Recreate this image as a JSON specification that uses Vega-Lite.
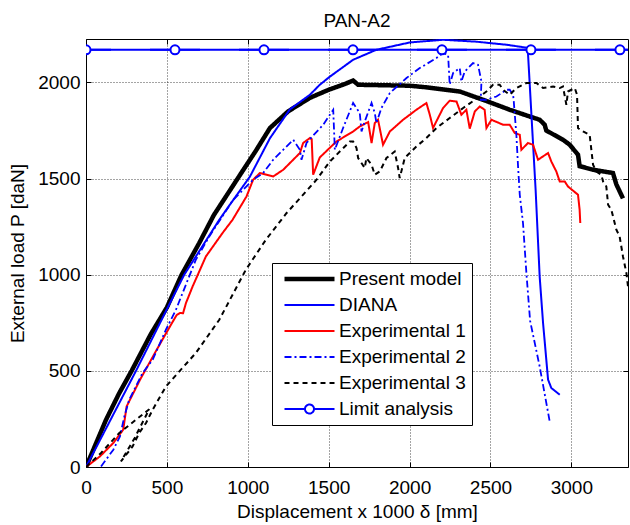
{
"$schema": "https://vega.github.io/schema/vega-lite/v6.json",
"width": 542, "height": 428,
"autosize": {"type": "none"},
"padding": {"left": 86, "top": 39, "right": 2, "bottom": 58},
"background": "white",
"title": {"text": "PAN-A2", "frame": "group", "anchor": "middle", "offset": -7, "baseline": "alphabetic", "fontSize": 19, "fontWeight": "normal", "font": "Liberation Sans", "color": "black"},
"config": {
  "view": {"stroke": "black", "strokeWidth": 1},
  "axis": {"domain": false, "tickColor": "black", "tickSize": -5, "tickWidth": 1, "labelFont": "Liberation Sans", "labelFontSize": 19, "labelColor": "black", "titleFont": "Liberation Sans", "titleFontSize": 19, "titleFontWeight": "normal", "titleColor": "black", "gridColor": "black", "gridDash": [1, 2], "gridOpacity": 0.9, "gridWidth": 0.8, "labelFlush": false, "labelOverlap": false, "labelBound": false, "format": "d"},
  "legend": {"fillColor": "white", "strokeColor": "black", "padding": 6, "symbolType": "stroke", "symbolSize": 2500, "clipHeight": 20, "labelFont": "Liberation Sans", "labelFontSize": 19, "labelColor": "black", "labelOffset": 2, "rowPadding": 6, "symbolOffset": 4, "labelLimit": 300}
},
"data": {"values": [
{"s":"Present model","i":1,"x":0,"y":0},{"s":"Present model","i":2,"x":124,"y":246},{"s":"Present model","i":3,"x":206,"y":385},{"s":"Present model","i":4,"x":282,"y":500},{"s":"Present model","i":5,"x":400,"y":690},{"s":"Present model","i":6,"x":500,"y":830},{"s":"Present model","i":7,"x":591,"y":1000},{"s":"Present model","i":8,"x":700,"y":1165},{"s":"Present model","i":9,"x":790,"y":1310},{"s":"Present model","i":10,"x":941,"y":1505},{"s":"Present model","i":11,"x":1050,"y":1645},{"s":"Present model","i":12,"x":1137,"y":1763},{"s":"Present model","i":13,"x":1250,"y":1850},{"s":"Present model","i":14,"x":1384,"y":1920},{"s":"Present model","i":15,"x":1500,"y":1962},{"s":"Present model","i":16,"x":1600,"y":1992},{"s":"Present model","i":17,"x":1651,"y":2010},{"s":"Present model","i":18,"x":1682,"y":1988},{"s":"Present model","i":19,"x":2001,"y":1983},{"s":"Present model","i":20,"x":2100,"y":1975},{"s":"Present model","i":21,"x":2310,"y":1953},{"s":"Present model","i":22,"x":2454,"y":1910},{"s":"Present model","i":23,"x":2619,"y":1858},{"s":"Present model","i":24,"x":2742,"y":1823},{"s":"Present model","i":25,"x":2804,"y":1806},{"s":"Present model","i":26,"x":2835,"y":1780},{"s":"Present model","i":27,"x":2845,"y":1750},{"s":"Present model","i":28,"x":2948,"y":1702},{"s":"Present model","i":29,"x":2990,"y":1676},{"s":"Present model","i":30,"x":3041,"y":1624},{"s":"Present model","i":31,"x":3051,"y":1565},{"s":"Present model","i":32,"x":3134,"y":1546},{"s":"Present model","i":33,"x":3257,"y":1529},{"s":"Present model","i":34,"x":3278,"y":1470},{"s":"Present model","i":35,"x":3319,"y":1397},
{"s":"DIANA","i":1,"x":0,"y":0},{"s":"DIANA","i":2,"x":309,"y":500},{"s":"DIANA","i":3,"x":607,"y":1000},{"s":"DIANA","i":4,"x":824,"y":1286},{"s":"DIANA","i":5,"x":889,"y":1364},{"s":"DIANA","i":6,"x":1013,"y":1510},{"s":"DIANA","i":7,"x":1137,"y":1710},{"s":"DIANA","i":8,"x":1260,"y":1860},{"s":"DIANA","i":9,"x":1384,"y":1936},{"s":"DIANA","i":10,"x":1445,"y":1988},{"s":"DIANA","i":11,"x":1507,"y":2030},{"s":"DIANA","i":12,"x":1651,"y":2118},{"s":"DIANA","i":13,"x":1795,"y":2170},{"s":"DIANA","i":14,"x":2001,"y":2208},{"s":"DIANA","i":15,"x":2207,"y":2222},{"s":"DIANA","i":16,"x":2413,"y":2212},{"s":"DIANA","i":17,"x":2600,"y":2196},{"s":"DIANA","i":18,"x":2730,"y":2180},{"s":"DIANA","i":19,"x":2779,"y":1442},{"s":"DIANA","i":20,"x":2804,"y":991},{"s":"DIANA","i":21,"x":2825,"y":749},{"s":"DIANA","i":22,"x":2856,"y":454},{"s":"DIANA","i":23,"x":2876,"y":411},{"s":"DIANA","i":24,"x":2928,"y":376},
{"s":"Experimental 1","i":1,"x":0,"y":0},{"s":"Experimental 1","i":2,"x":86,"y":55},{"s":"Experimental 1","i":3,"x":169,"y":125},{"s":"Experimental 1","i":4,"x":230,"y":194},{"s":"Experimental 1","i":5,"x":251,"y":315},{"s":"Experimental 1","i":6,"x":334,"y":454},{"s":"Experimental 1","i":7,"x":437,"y":610},{"s":"Experimental 1","i":8,"x":519,"y":731},{"s":"Experimental 1","i":9,"x":560,"y":790},{"s":"Experimental 1","i":10,"x":581,"y":801},{"s":"Experimental 1","i":11,"x":600,"y":800},{"s":"Experimental 1","i":12,"x":618,"y":853},{"s":"Experimental 1","i":13,"x":659,"y":939},{"s":"Experimental 1","i":14,"x":741,"y":1095},{"s":"Experimental 1","i":15,"x":844,"y":1217},{"s":"Experimental 1","i":16,"x":906,"y":1286},{"s":"Experimental 1","i":17,"x":992,"y":1407},{"s":"Experimental 1","i":18,"x":1033,"y":1494},{"s":"Experimental 1","i":19,"x":1075,"y":1529},{"s":"Experimental 1","i":20,"x":1157,"y":1511},{"s":"Experimental 1","i":21,"x":1219,"y":1546},{"s":"Experimental 1","i":22,"x":1322,"y":1633},{"s":"Experimental 1","i":23,"x":1342,"y":1685},{"s":"Experimental 1","i":24,"x":1384,"y":1711},{"s":"Experimental 1","i":25,"x":1395,"y":1705},{"s":"Experimental 1","i":26,"x":1404,"y":1520},{"s":"Experimental 1","i":27,"x":1445,"y":1610},{"s":"Experimental 1","i":28,"x":1548,"y":1693},{"s":"Experimental 1","i":29,"x":1651,"y":1745},{"s":"Experimental 1","i":30,"x":1692,"y":1771},{"s":"Experimental 1","i":31,"x":1744,"y":1794},{"s":"Experimental 1","i":32,"x":1765,"y":1685},{"s":"Experimental 1","i":33,"x":1785,"y":1789},{"s":"Experimental 1","i":34,"x":1805,"y":1806},{"s":"Experimental 1","i":35,"x":1836,"y":1676},{"s":"Experimental 1","i":36,"x":1878,"y":1745},{"s":"Experimental 1","i":37,"x":1960,"y":1806},{"s":"Experimental 1","i":38,"x":2042,"y":1858},{"s":"Experimental 1","i":39,"x":2104,"y":1893},{"s":"Experimental 1","i":40,"x":2125,"y":1832},{"s":"Experimental 1","i":41,"x":2145,"y":1763},{"s":"Experimental 1","i":42,"x":2207,"y":1867},{"s":"Experimental 1","i":43,"x":2248,"y":1905},{"s":"Experimental 1","i":44,"x":2290,"y":1901},{"s":"Experimental 1","i":45,"x":2320,"y":1832},{"s":"Experimental 1","i":46,"x":2351,"y":1858},{"s":"Experimental 1","i":47,"x":2372,"y":1760},{"s":"Experimental 1","i":48,"x":2403,"y":1849},{"s":"Experimental 1","i":49,"x":2434,"y":1875},{"s":"Experimental 1","i":50,"x":2464,"y":1858},{"s":"Experimental 1","i":51,"x":2475,"y":1763},{"s":"Experimental 1","i":52,"x":2506,"y":1806},{"s":"Experimental 1","i":53,"x":2578,"y":1780},{"s":"Experimental 1","i":54,"x":2619,"y":1780},{"s":"Experimental 1","i":55,"x":2650,"y":1737},{"s":"Experimental 1","i":56,"x":2681,"y":1728},{"s":"Experimental 1","i":57,"x":2691,"y":1650},{"s":"Experimental 1","i":58,"x":2732,"y":1685},{"s":"Experimental 1","i":59,"x":2763,"y":1676},{"s":"Experimental 1","i":60,"x":2794,"y":1598},{"s":"Experimental 1","i":61,"x":2856,"y":1633},{"s":"Experimental 1","i":62,"x":2876,"y":1589},{"s":"Experimental 1","i":63,"x":2907,"y":1537},{"s":"Experimental 1","i":64,"x":2928,"y":1485},{"s":"Experimental 1","i":65,"x":2959,"y":1485},{"s":"Experimental 1","i":66,"x":2979,"y":1459},{"s":"Experimental 1","i":67,"x":3041,"y":1416},{"s":"Experimental 1","i":68,"x":3051,"y":1338},{"s":"Experimental 1","i":69,"x":3055,"y":1269},
{"s":"Experimental 2","i":1,"x":93,"y":3},{"s":"Experimental 2","i":2,"x":169,"y":90},{"s":"Experimental 2","i":3,"x":210,"y":159},{"s":"Experimental 2","i":4,"x":237,"y":263},{"s":"Experimental 2","i":5,"x":267,"y":350},{"s":"Experimental 2","i":6,"x":350,"y":489},{"s":"Experimental 2","i":7,"x":412,"y":558},{"s":"Experimental 2","i":8,"x":494,"y":714},{"s":"Experimental 2","i":9,"x":556,"y":818},{"s":"Experimental 2","i":10,"x":597,"y":905},{"s":"Experimental 2","i":11,"x":679,"y":1078},{"s":"Experimental 2","i":12,"x":762,"y":1199},{"s":"Experimental 2","i":13,"x":910,"y":1390},{"s":"Experimental 2","i":14,"x":1033,"y":1494},{"s":"Experimental 2","i":15,"x":1095,"y":1529},{"s":"Experimental 2","i":16,"x":1157,"y":1598},{"s":"Experimental 2","i":17,"x":1281,"y":1702},{"s":"Experimental 2","i":18,"x":1322,"y":1650},{"s":"Experimental 2","i":19,"x":1332,"y":1598},{"s":"Experimental 2","i":20,"x":1363,"y":1685},{"s":"Experimental 2","i":21,"x":1400,"y":1720},{"s":"Experimental 2","i":22,"x":1466,"y":1780},{"s":"Experimental 2","i":23,"x":1528,"y":1858},{"s":"Experimental 2","i":24,"x":1538,"y":1650},{"s":"Experimental 2","i":25,"x":1589,"y":1763},{"s":"Experimental 2","i":26,"x":1651,"y":1893},{"s":"Experimental 2","i":27,"x":1692,"y":1841},{"s":"Experimental 2","i":28,"x":1703,"y":1745},{"s":"Experimental 2","i":29,"x":1723,"y":1797},{"s":"Experimental 2","i":30,"x":1765,"y":1893},{"s":"Experimental 2","i":31,"x":1785,"y":1841},{"s":"Experimental 2","i":32,"x":1795,"y":1789},{"s":"Experimental 2","i":33,"x":1826,"y":1867},{"s":"Experimental 2","i":34,"x":1878,"y":1945},{"s":"Experimental 2","i":35,"x":1981,"y":2023},{"s":"Experimental 2","i":36,"x":2063,"y":2075},{"s":"Experimental 2","i":37,"x":2166,"y":2127},{"s":"Experimental 2","i":38,"x":2207,"y":2153},{"s":"Experimental 2","i":39,"x":2238,"y":2144},{"s":"Experimental 2","i":40,"x":2248,"y":1988},{"s":"Experimental 2","i":41,"x":2269,"y":2049},{"s":"Experimental 2","i":42,"x":2310,"y":2075},{"s":"Experimental 2","i":43,"x":2320,"y":2005},{"s":"Experimental 2","i":44,"x":2341,"y":2057},{"s":"Experimental 2","i":45,"x":2392,"y":2101},{"s":"Experimental 2","i":46,"x":2423,"y":2092},{"s":"Experimental 2","i":47,"x":2444,"y":2005},{"s":"Experimental 2","i":48,"x":2440,"y":1910},{"s":"Experimental 2","i":49,"x":2475,"y":1910},{"s":"Experimental 2","i":50,"x":2537,"y":1927},{"s":"Experimental 2","i":51,"x":2599,"y":1962},{"s":"Experimental 2","i":52,"x":2619,"y":1962},{"s":"Experimental 2","i":53,"x":2640,"y":1935},{"s":"Experimental 2","i":54,"x":2644,"y":1901},{"s":"Experimental 2","i":55,"x":2660,"y":1728},{"s":"Experimental 2","i":56,"x":2671,"y":1555},{"s":"Experimental 2","i":57,"x":2681,"y":1416},{"s":"Experimental 2","i":58,"x":2701,"y":1269},{"s":"Experimental 2","i":59,"x":2722,"y":1009},{"s":"Experimental 2","i":60,"x":2745,"y":760},{"s":"Experimental 2","i":61,"x":2804,"y":523},{"s":"Experimental 2","i":62,"x":2866,"y":237},
{"s":"Experimental 3","i":1,"x":0,"y":0},{"s":"Experimental 3","i":2,"x":93,"y":73},{"s":"Experimental 3","i":3,"x":206,"y":177},{"s":"Experimental 3","i":4,"x":309,"y":246},{"s":"Experimental 3","i":5,"x":391,"y":300},{"s":"Experimental 3","i":6,"x":300,"y":150},{"s":"Experimental 3","i":7,"x":216,"y":29},{"s":"Experimental 3","i":8,"x":288,"y":107},{"s":"Experimental 3","i":9,"x":329,"y":177},{"s":"Experimental 3","i":10,"x":371,"y":229},{"s":"Experimental 3","i":11,"x":412,"y":298},{"s":"Experimental 3","i":12,"x":494,"y":419},{"s":"Experimental 3","i":13,"x":679,"y":593},{"s":"Experimental 3","i":14,"x":824,"y":766},{"s":"Experimental 3","i":15,"x":988,"y":1026},{"s":"Experimental 3","i":16,"x":1112,"y":1182},{"s":"Experimental 3","i":17,"x":1240,"y":1321},{"s":"Experimental 3","i":18,"x":1425,"y":1494},{"s":"Experimental 3","i":19,"x":1507,"y":1589},{"s":"Experimental 3","i":20,"x":1631,"y":1693},{"s":"Experimental 3","i":21,"x":1651,"y":1693},{"s":"Experimental 3","i":22,"x":1672,"y":1659},{"s":"Experimental 3","i":23,"x":1682,"y":1607},{"s":"Experimental 3","i":24,"x":1723,"y":1555},{"s":"Experimental 3","i":25,"x":1733,"y":1607},{"s":"Experimental 3","i":26,"x":1765,"y":1572},{"s":"Experimental 3","i":27,"x":1785,"y":1520},{"s":"Experimental 3","i":28,"x":1816,"y":1537},{"s":"Experimental 3","i":29,"x":1857,"y":1607},{"s":"Experimental 3","i":30,"x":1908,"y":1641},{"s":"Experimental 3","i":31,"x":1929,"y":1555},{"s":"Experimental 3","i":32,"x":1939,"y":1503},{"s":"Experimental 3","i":33,"x":1970,"y":1607},{"s":"Experimental 3","i":34,"x":2042,"y":1667},{"s":"Experimental 3","i":35,"x":2104,"y":1711},{"s":"Experimental 3","i":36,"x":2166,"y":1763},{"s":"Experimental 3","i":37,"x":2248,"y":1815},{"s":"Experimental 3","i":38,"x":2331,"y":1867},{"s":"Experimental 3","i":39,"x":2413,"y":1915},{"s":"Experimental 3","i":40,"x":2475,"y":1953},{"s":"Experimental 3","i":41,"x":2516,"y":1988},{"s":"Experimental 3","i":42,"x":2557,"y":1988},{"s":"Experimental 3","i":43,"x":2578,"y":1962},{"s":"Experimental 3","i":44,"x":2619,"y":1936},{"s":"Experimental 3","i":45,"x":2660,"y":1971},{"s":"Experimental 3","i":46,"x":2722,"y":1997},{"s":"Experimental 3","i":47,"x":2784,"y":1997},{"s":"Experimental 3","i":48,"x":2825,"y":1971},{"s":"Experimental 3","i":49,"x":2887,"y":1979},{"s":"Experimental 3","i":50,"x":2928,"y":1971},{"s":"Experimental 3","i":51,"x":2948,"y":1979},{"s":"Experimental 3","i":52,"x":2969,"y":1884},{"s":"Experimental 3","i":53,"x":2979,"y":1953},{"s":"Experimental 3","i":54,"x":3021,"y":1971},{"s":"Experimental 3","i":55,"x":3035,"y":1936},{"s":"Experimental 3","i":56,"x":3041,"y":1763},{"s":"Experimental 3","i":57,"x":3072,"y":1745},{"s":"Experimental 3","i":58,"x":3113,"y":1728},{"s":"Experimental 3","i":59,"x":3134,"y":1572},{"s":"Experimental 3","i":60,"x":3154,"y":1537},{"s":"Experimental 3","i":61,"x":3185,"y":1520},{"s":"Experimental 3","i":62,"x":3196,"y":1485},{"s":"Experimental 3","i":63,"x":3216,"y":1459},{"s":"Experimental 3","i":64,"x":3227,"y":1364},{"s":"Experimental 3","i":65,"x":3247,"y":1338},{"s":"Experimental 3","i":66,"x":3278,"y":1234},{"s":"Experimental 3","i":67,"x":3298,"y":1200},{"s":"Experimental 3","i":68,"x":3319,"y":1095},{"s":"Experimental 3","i":69,"x":3340,"y":1009},{"s":"Experimental 3","i":70,"x":3350,"y":939},
{"s":"Limit analysis","i":1,"x":0,"y":2170,"m":1},{"s":"Limit analysis","i":2,"x":550,"y":2170,"m":1},{"s":"Limit analysis","i":3,"x":1100,"y":2170,"m":1},{"s":"Limit analysis","i":4,"x":1650,"y":2170,"m":1},{"s":"Limit analysis","i":5,"x":2200,"y":2170,"m":1},{"s":"Limit analysis","i":6,"x":2750,"y":2170,"m":1},{"s":"Limit analysis","i":7,"x":3300,"y":2170,"m":1},{"s":"Limit analysis","i":8,"x":3350,"y":2170,"m":0}
]},
"resolve": {"axis": {"x": "independent", "y": "independent"}},
"layer": [
  {
    "mark": {"type": "line", "clip": true},
    "encoding": {
      "x": {"field": "x", "type": "quantitative", "scale": {"domain": [0, 3350], "nice": false, "zero": false}, "axis": {"orient": "bottom", "values": [0, 500, 1000, 1500, 2000, 2500, 3000], "grid": true, "title": "Displacement x 1000 δ [mm]", "labelPadding": 16, "titlePadding": 5}},
      "y": {"field": "y", "type": "quantitative", "scale": {"domain": [0, 2226], "nice": false, "zero": false}, "axis": {"orient": "left", "values": [0, 500, 1000, 1500, 2000], "grid": true, "title": "External load P [daN]", "labelPadding": 11, "titlePadding": 10}},
      "color": {"field": "s", "type": "nominal", "scale": {"domain": ["Present model", "DIANA", "Experimental 1", "Experimental 2", "Experimental 3", "Limit analysis"], "range": ["#000000", "#0000ff", "#ff0000", "#0000ff", "#000000", "#0000ff"]},
        "legend": {"title": null, "orient": "none", "legendX": 186, "legendY": 224, "direction": "vertical"}},
      "strokeDash": {"field": "s", "type": "nominal", "scale": {"domain": ["Present model", "DIANA", "Experimental 1", "Experimental 2", "Experimental 3", "Limit analysis"], "range": [[1, 0], [1, 0], [1, 0], [7, 3, 2, 3], [5, 4], [1, 0]]},
        "legend": {"title": null, "orient": "none", "legendX": 186, "legendY": 224, "direction": "vertical"}},
      "strokeWidth": {"field": "s", "type": "nominal", "scale": {"type": "ordinal", "domain": ["Present model", "DIANA", "Experimental 1", "Experimental 2", "Experimental 3", "Limit analysis"], "range": [4.5, 2, 2, 1.8, 2, 2]},
        "legend": {"title": null, "orient": "none", "legendX": 186, "legendY": 224, "direction": "vertical"}},
      "order": {"field": "i", "type": "quantitative"}
    }
  },
  {
    "transform": [{"filter": "datum.m == 1"}],
    "mark": {"type": "point", "filled": false, "fill": "white", "strokeWidth": 2, "size": 2500, "opacity": 1, "clip": true},
    "encoding": {
      "x": {"field": "x", "type": "quantitative", "axis": {"orient": "top", "values": [0, 500, 1000, 1500, 2000, 2500, 3000], "labels": false, "title": null, "grid": false}},
      "y": {"field": "y", "type": "quantitative", "axis": {"orient": "right", "values": [0, 500, 1000, 1500, 2000], "labels": false, "title": null, "grid": false}},
      "color": {"field": "s", "type": "nominal", "legend": {"title": null, "orient": "none", "legendX": 186, "legendY": 224, "direction": "vertical"}},
      "shape": {"field": "s", "type": "nominal", "scale": {"domain": ["Present model", "DIANA", "Experimental 1", "Experimental 2", "Experimental 3", "Limit analysis"], "range": ["stroke", "stroke", "stroke", "stroke", "stroke", "M-1,0L-0.18,0M0.18,0L1,0M0.18,0A0.18,0.18,0,1,1,-0.18,0A0.18,0.18,0,1,1,0.18,0"]},
        "legend": {"title": null, "orient": "none", "legendX": 186, "legendY": 224, "direction": "vertical"}}
    }
  }
]
}
